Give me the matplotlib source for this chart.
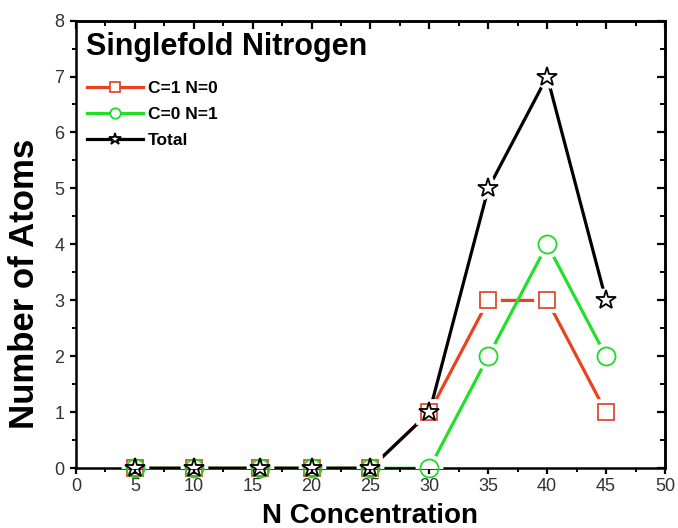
import numpy as np
import matplotlib
matplotlib.use("Agg")
import matplotlib.pyplot as plt
from matplotlib.lines import Line2D
from matplotlib.ticker import MultipleLocator

plt.rcParams['font.family'] = ['Liberation Sans', 'DejaVu Sans']

# datos
conc = [5, 10, 15.6, 20, 25, 30, 35, 40, 45]
c1_n0 = [0, 0, 0, 0, 0, 1, 3, 3, 1]
c0_n1 = [0, 0, 0, 0, 0, 0, 2, 4, 2]
total = [0, 0, 0, 0, 0, 1, 5, 7, 3]

labels = ['C=1 N=0', 'C=0 N=1', 'Total']
colors = ['#e8421e', '#22e02a', 'black']
edge_colors = ['#e04a36', '#22d82a', 'black']
markers = ['s', 'o', '*']
msizes = [12, 13, 15]
leg_sizes = [7, 7.5, 9]

fig = plt.figure(figsize=(6.78, 5.28), dpi=100)
ax = fig.add_axes([0.1121, 0.1131, 0.8687, 0.848])

series = [c1_n0, c0_n1, total]

# lineas primero
for i, y in enumerate(series):
    ax.plot(conc, y, color=colors[i], lw=2.3, zorder=2 + i * 0.1)

# halo blanco para dejar hueco entre linea y marcador (recortado al area del eje)
for i, y in enumerate(series):
    ax.plot(conc, y, ls='none', marker=markers[i], ms=msizes[i],
            mfc='white', mec='white', mew=7, zorder=3)

# marcadores huecos
for i, y in enumerate(series):
    ax.plot(conc, y, ls='none', marker=markers[i], ms=msizes[i],
            mfc='none', mec=edge_colors[i], mew=1.3, zorder=4 + i * 0.1,
            clip_on=False)

ax.set_xlim(0, 50)
ax.set_ylim(0, 8)
ax.xaxis.set_major_locator(MultipleLocator(5))
ax.xaxis.set_minor_locator(MultipleLocator(2.5))
ax.yaxis.set_major_locator(MultipleLocator(1))
ax.yaxis.set_minor_locator(MultipleLocator(0.5))

for sp in ax.spines.values():
    sp.set_linewidth(1.8)

ax.tick_params(which='major', direction='out', length=4.5, width=1.6,
               labelsize=13, labelcolor='#333333', pad=2.5)
ax.tick_params(axis='y', which='major', pad=4)
ax.tick_params(which='minor', direction='out', length=3, width=1.4)

# ticks hacia dentro en los ejes superior y derecho
top = ax.secondary_xaxis('top')
top.xaxis.set_major_locator(MultipleLocator(5))
top.xaxis.set_minor_locator(MultipleLocator(2.5))
top.tick_params(which='major', direction='in', length=6, width=1.6, labeltop=False)
top.tick_params(which='minor', direction='in', length=3.5, width=1.4)
top.spines['top'].set_linewidth(1.8)

right = ax.secondary_yaxis('right')
right.yaxis.set_major_locator(MultipleLocator(1))
right.yaxis.set_minor_locator(MultipleLocator(0.5))
right.tick_params(which='major', direction='in', length=6, width=1.6, labelright=False)
right.tick_params(which='minor', direction='in', length=3.5, width=1.4)
right.spines['right'].set_linewidth(1.8)

# titulo dentro del grafico
ax.text(0.017, 0.923, 'Singlefold Nitrogen', transform=ax.transAxes,
        fontsize=22, fontweight='bold', va='baseline', ha='left')

# etiquetas de ejes
fig.text(370 / 678, 5 / 528, 'N Concentration', fontsize=20, fontweight='bold',
         ha='center', va='baseline')
fig.text(25 / 678, 1 - 284 / 528, 'Number of Atoms', fontsize=25, fontweight='bold',
         ha='center', va='center', rotation=90)

# leyenda
handles = [Line2D([0], [0], color=colors[i], lw=2.3, marker=markers[i],
                  ms=leg_sizes[i], mfc='white', mec=edge_colors[i], mew=1.3)
           for i in range(3)]
leg = ax.legend(handles, labels, loc='upper left', bbox_to_anchor=(0.0187, 0.865),
                frameon=False, borderpad=0, borderaxespad=0, handlelength=3.2,
                handletextpad=0.3, labelspacing=0.62,
                prop={'size': 12.5, 'weight': 'bold'})

fig.savefig('out.png', dpi=100)
